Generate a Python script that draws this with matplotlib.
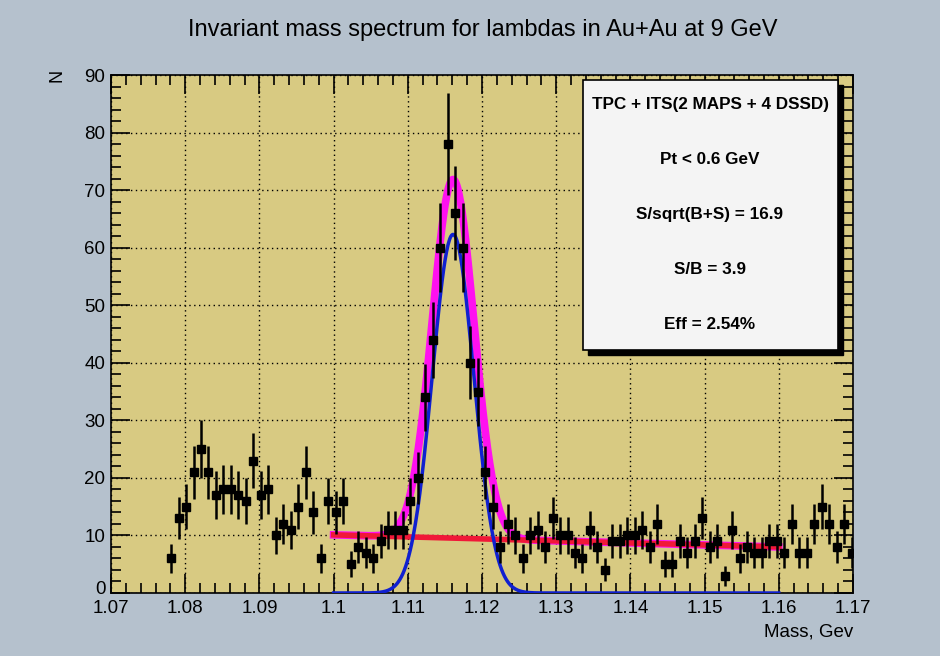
import numpy as np
import matplotlib
matplotlib.use("Agg")
import matplotlib.pyplot as plt
from matplotlib.patches import Rectangle
from matplotlib.ticker import MultipleLocator

# histogram of lambda candidates, 1 MeV bins
first_center = 1.0781
bin_width = 0.001008
counts = [6, 13, 15, 21, 25, 21, 17, 18, 18, 17, 16, 23, 17, 18, 10, 12, 11, 15, 21, 14,
          6, 16, 14, 16, 5, 8, 7, 6, 9, 11, 11, 11, 16, 20, 34, 44, 60, 78, 66, 60,
          40, 35, 21, 15, 8, 12, 10, 6, 10, 11, 8, 13, 10, 10, 7, 6, 11, 8, 4, 9,
          9, 10, 10, 11, 8, 12, 5, 5, 9, 7, 9, 13, 8, 9, 3, 11, 6, 8, 7, 7,
          9, 9, 7, 12, 7, 7, 12, 15, 12, 8, 12, 7]

# fit results
fit_lo, fit_hi = 1.10, 1.16
gaus_amp, gaus_mean, gaus_sigma = 62.3, 1.1161, 0.0028
bg_p0, bg_p1 = 10.1, -35.0  # bg = p0 + p1*(x - fit_lo)

info_lines = ["TPC + ITS(2 MAPS + 4 DSSD)", "Pt < 0.6 GeV", "S/sqrt(B+S) = 16.9",
              "S/B = 3.9", "Eff = 2.54%"]

plt.rcParams["font.family"] = ["Liberation Sans", "DejaVu Sans"]

counts = np.array(counts, dtype=float)
mass = first_center + bin_width * np.arange(len(counts))
xf = np.linspace(fit_lo, fit_hi, 600)
gaus = gaus_amp * np.exp(-0.5 * ((xf - gaus_mean) / gaus_sigma) ** 2)
bg = bg_p0 + bg_p1 * (xf - fit_lo)

fig = plt.figure(figsize=(9.4, 6.56), dpi=100, facecolor="#b5c1cd")
ax = fig.add_axes([111 / 940, 1 - 593 / 656, 742 / 940, 518 / 656])
ax.set_facecolor("#d8ca82")

ax.plot(xf, bg + gaus, color="#ff10f0", lw=5.5, zorder=2)
ax.plot(xf, bg, color="#f01838", lw=4, zorder=3)
ax.plot(xf, gaus, color="#1020d0", lw=2.5, zorder=4)
ax.errorbar(mass, counts, yerr=np.sqrt(counts), fmt="s", color="black",
            ms=5.2, elinewidth=1.8, capsize=0, zorder=5)

ax.set_xlim(1.07, 1.17)
ax.set_ylim(0, 90)
ax.xaxis.set_major_locator(MultipleLocator(0.01))
ax.xaxis.set_minor_locator(MultipleLocator(0.002))
ax.yaxis.set_major_locator(MultipleLocator(10))
ax.yaxis.set_minor_locator(MultipleLocator(2))
ax.xaxis.set_major_formatter(plt.FuncFormatter(lambda v, p: f"{v:.2f}".rstrip("0") if abs(v - 1.1) > 1e-9 else "1.1"))
# the "0" is drawn by hand a bit higher so it clears "1.07"
ax.yaxis.set_major_formatter(plt.FuncFormatter(lambda v, p: "" if abs(v) < 1e-9 else f"{v:.0f}"))
ax.tick_params(which="both", direction="in", top=True, right=True, labelsize=13.5, width=1.2)
ax.tick_params(which="major", length=14)
ax.tick_params(which="minor", length=7)
ax.tick_params(axis="x", pad=5)
ax.tick_params(axis="y", pad=4)
ax.grid(True, which="major", color="black", ls=(0, (1, 2.5)), lw=1.0)
for s in ax.spines.values():
    s.set_linewidth(1.2)

fig.text(105.5 / 940, 1 - 589 / 656, "0", ha="right", va="center", fontsize=13.5)
fig.text(483 / 940, 1 - 30 / 656, "Invariant mass spectrum for lambdas in Au+Au at 9 GeV",
         ha="center", va="center", fontsize=17)
fig.text(57 / 940, 1 - 75 / 656, "N", rotation=90, ha="center", va="center", fontsize=13)
fig.text(853 / 940, 1 - 632 / 656, "Mass, Gev", ha="right", va="center", fontsize=13.5)

# stats box with shadow, in pixel-ish figure coords
bx0, by0, bx1, by1 = 583, 80, 838, 350
fig.patches.append(Rectangle((bx0 / 940 + 5 / 940, 1 - (by1 + 5) / 656), (bx1 - bx0) / 940,
                             (by1 - by0) / 656, transform=fig.transFigure,
                             facecolor="black", edgecolor="black", zorder=10))
fig.patches.append(Rectangle((bx0 / 940, 1 - by1 / 656), (bx1 - bx0) / 940,
                             (by1 - by0) / 656, transform=fig.transFigure,
                             facecolor="#f4f4f4", edgecolor="black", lw=1.2, zorder=11))
for i, line in enumerate(info_lines):
    fig.text(710 / 940, 1 - (105 + 55 * i) / 656, line, ha="center", va="center",
             fontsize=12.3, fontweight="bold", zorder=12)

fig.savefig("out.png", dpi=100, facecolor=fig.get_facecolor())
